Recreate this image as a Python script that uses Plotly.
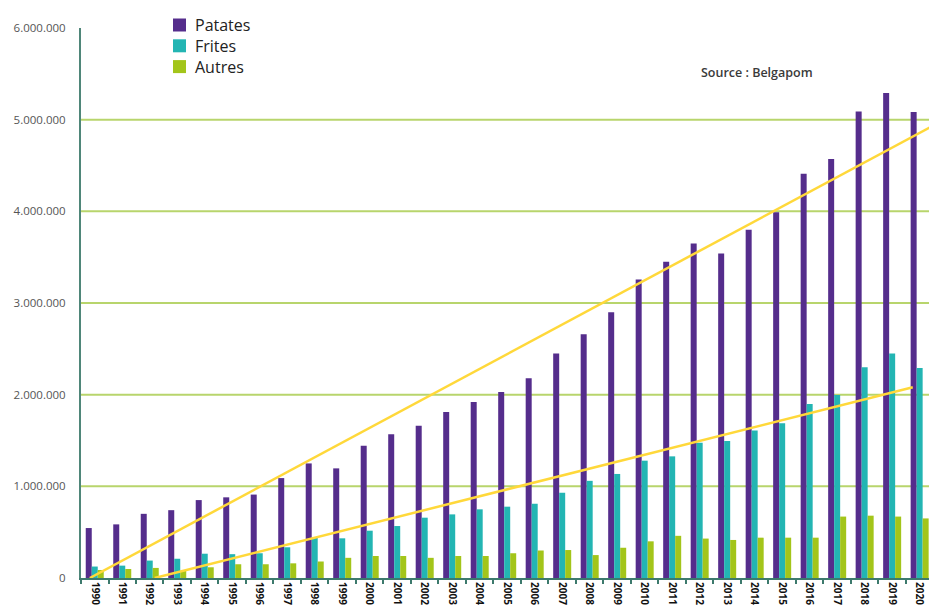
import plotly.graph_objects as go

years = list(range(1990, 2021))
series_names = ["Patates", "Frites", "Autres"]
series_colors = ["#552d8c", "#23b5b3", "#a3c51a"]
patates = [545000, 585000, 700000, 740000, 850000, 880000, 910000, 1090000, 1250000, 1196000,
           1443000, 1567000, 1660000, 1810000, 1920000, 2030000, 2180000, 2450000, 2660000, 2900000,
           3257000, 3450000, 3650000, 3540000, 3800000, 3990000, 4410000, 4570000, 5090000, 5290000, 5085000]
frites = [125000, 135000, 190000, 210000, 265000, 260000, 270000, 335000, 440000, 433000,
          516000, 567000, 658000, 694000, 749000, 778000, 810000, 930000, 1060000, 1135000,
          1280000, 1327000, 1476000, 1494000, 1610000, 1687000, 1897000, 1996000, 2300000, 2450000, 2290000]
autres = [87000, 98000, 110000, 78000, 117000, 150000, 150000, 160000, 180000, 220000,
          240000, 240000, 220000, 240000, 240000, 270000, 300000, 305000, 250000, 330000,
          400000, 460000, 430000, 415000, 440000, 440000, 440000, 670000, 680000, 670000, 650000]

trend_patates_x = [1989.82, 2020.5]
trend_patates_y = [0, 4937000]
trend_frites_x = [1992.18, 2019.75]
trend_frites_y = [0, 2080000]

y_ticks = [0, 1000000, 2000000, 3000000, 4000000, 5000000, 6000000]
grid_values = [1000000, 2000000, 3000000, 4000000, 5000000]

W, H = 929, 615
ML, MR, MT, MB = 81, 0, 28, 37
PW, PH = W - ML - MR, H - MT - MB


def px(x):
    return (x - ML) / PW


def py(y):
    return (H - MB - y) / PH


fig = go.Figure()
for name, vals, col in zip(series_names, [patates, frites, autres], series_colors):
    fig.add_bar(x=years, y=vals, name=name, marker=dict(color=col, line=dict(width=0)), showlegend=False)

for gv in grid_values:
    fig.add_shape(type="line", xref="paper", yref="y", x0=0, x1=1, y0=gv, y1=gv,
                  line=dict(color="#b8d56c", width=2), layer="below")

fig.add_scatter(x=trend_patates_x, y=trend_patates_y, mode="lines", showlegend=False,
                line=dict(color="#ffd83a", width=2.5), hoverinfo="skip")
fig.add_scatter(x=trend_frites_x, y=trend_frites_y, mode="lines", showlegend=False,
                line=dict(color="#ffd83a", width=2.5), hoverinfo="skip")

# manual legend
for i, (name, col) in enumerate(zip(series_names, series_colors)):
    top = 18.5 + i * 20.8
    fig.add_shape(type="rect", xref="paper", yref="paper", x0=px(173), x1=px(186),
                  y0=py(top + 13), y1=py(top), fillcolor=col, line=dict(width=0))
    fig.add_annotation(text=name, xref="paper", yref="paper", x=px(194), y=py(top + 6.8),
                       xanchor="left", yanchor="middle", showarrow=False, borderpad=0,
                       font=dict(size=16, color="#222222", family="Open Sans"))

fig.add_annotation(text="Source : Belgapom", xref="paper", yref="paper", x=px(757), y=py(73),
                   xanchor="center", yanchor="middle", showarrow=False,
                   font=dict(size=12.5, color="#3a3a3a", family="Open Sans", weight=600))

fig.update_layout(
    width=W, height=H,
    margin=dict(l=ML, r=MR, t=MT, b=MB),
    paper_bgcolor="white", plot_bgcolor="white",
    barmode="group", bargap=0.345, bargroupgap=0,
    separators=",.",
    font=dict(family="Open Sans"),
    showlegend=False,
    xaxis=dict(range=[1989.5, 2020.34], tickvals=years, ticktext=[str(y) for y in years],
               tickangle=90, tickfont=dict(size=10, color="#111111", family="Open Sans", weight="bold"),
               showgrid=False, zeroline=False, showline=True, linecolor="#3d7a6d", linewidth=2,
               ticks="", automargin=False,
               minor=dict(ticks="outside", tick0=1989.5, dtick=1, ticklen=4, tickcolor="#3d7a6d",
                          tickwidth=2, showgrid=False)),
    yaxis=dict(range=[0, 6000000], tickvals=y_ticks, tickformat=",d",
               tickfont=dict(size=11.5, color="#555555", family="Open Sans"),
               showgrid=False, zeroline=False, showline=True, linecolor="#4f8679", linewidth=2,
               ticks="", ticklabelstandoff=11, automargin=False),
)

fig.write_html("out.html")
